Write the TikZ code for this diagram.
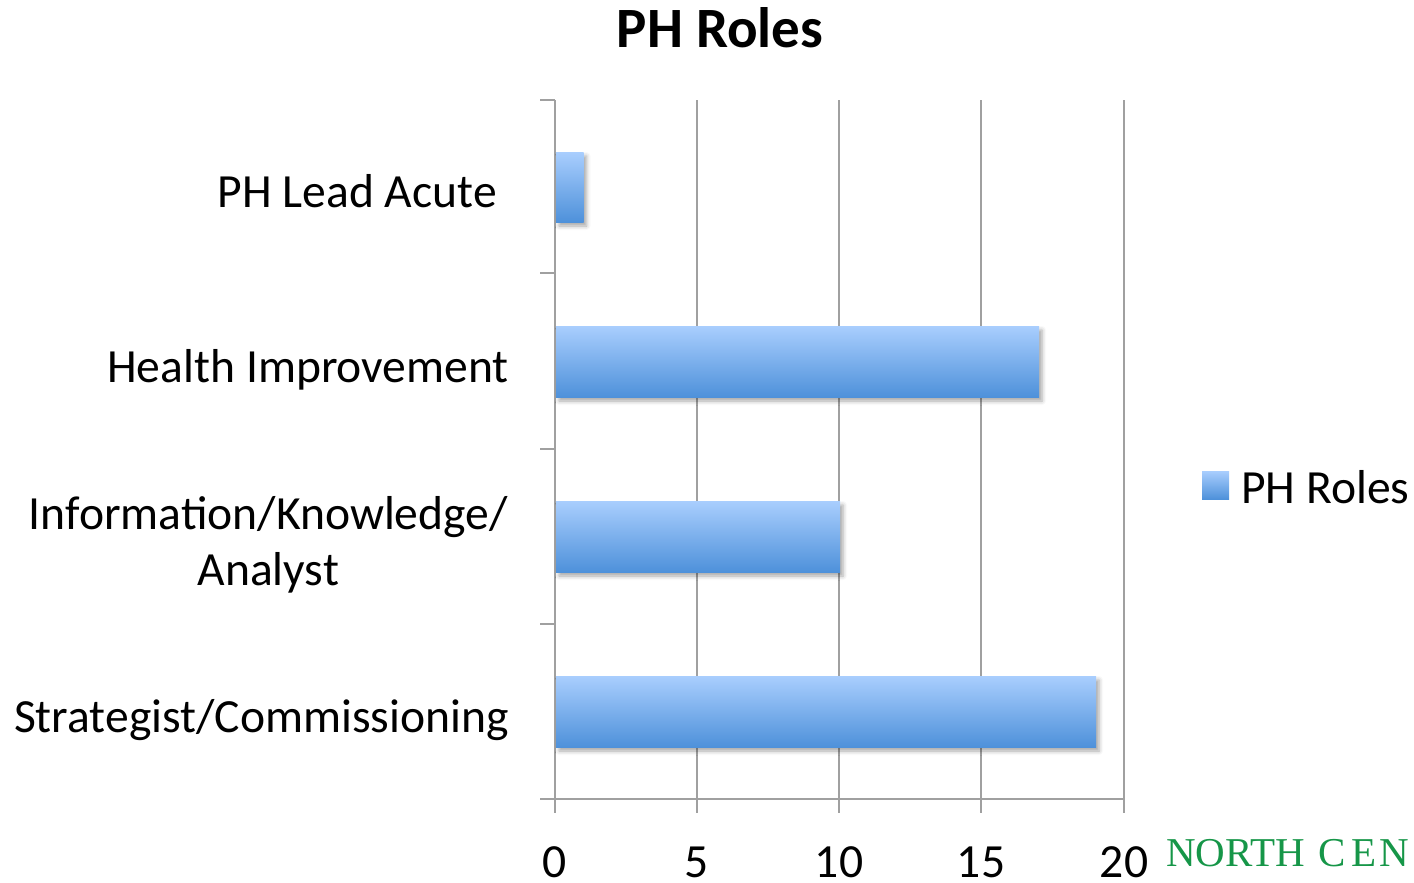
\documentclass[tikz,border=0pt]{standalone}
\usepackage{fontspec}
\setmainfont{Carlito}
\newfontfamily\serifnc{Liberation Serif}
\usetikzlibrary{shadows.blur}
\definecolor{gridgray}{RGB}{160,160,160}
\definecolor{bartop}{RGB}{169,206,254}
\definecolor{barbot}{RGB}{78,145,218}
\definecolor{ncgreen}{RGB}{22,150,72}
\begin{document}
\begin{tikzpicture}[x=1pt,y=-1pt,
  grid/.style={draw=gridgray,line width=2pt},
  bar/.style={top color=bartop,bottom color=barbot,draw=none,
    blur shadow={shadow xshift=3pt,shadow yshift=-4pt,shadow blur radius=4pt,shadow opacity=35}},
  lbl/.style={font=\fontsize{47.6}{57}\selectfont,inner sep=0pt},
  ticklbl/.style={lbl,text depth=0pt,text height=32pt},
]
\useasboundingbox (0,0) rectangle (1414,883);
% grid lines
\foreach \x in {697,839,981,1124} \draw[grid] (\x,100) -- (\x,813);
% axes
\draw[grid] (555,100) -- (555,813);
\draw[grid] (540,799) -- (1124,799);
\foreach \y in {100,273,449,624} \draw[grid] (540,\y) -- (555,\y);
% bars
\path[bar] (556,152) rectangle (583.5,222);
\path[bar] (556,326) rectangle (1039,397);
\path[bar] (556,501) rectangle (840,572);
\path[bar] (556,676) rectangle (1096,747);
% category labels
\node[lbl,anchor=base east] (c1) at (497,207) {PH Lead Acute};
\node[lbl,anchor=base east] (c2) at (509,382) {Health Improvement};
\node[lbl,anchor=base east] (c3a) at (508,529) {Information/Knowledge/};
\node[lbl,anchor=base] (c3b) at ([yshift=-56pt]c3a.base) {Analyst};
\node[lbl,anchor=base east] (c4) at (509,732) {Strategist/Commissioning};
% tick labels
\node[ticklbl,anchor=base] (t0) at (555,877) {0};
\node[ticklbl,anchor=base] (t5) at (697,877) {5};
\node[ticklbl,anchor=base] (t10) at (839,877) {10};
\node[ticklbl,anchor=base] (t15) at (981,877) {15};
\node[ticklbl,anchor=base] (t20) at (1124,877) {20};
% title
\node[font=\fontsize{57}{68}\selectfont\bfseries,inner sep=0pt,anchor=base] (title) at (720,48) {PH Roles};
% legend
\path[top color=bartop,bottom color=barbot] (1202,471) rectangle (1229,499);
\node[lbl,anchor=base west] (leg) at (1241,503) {PH Roles};
% logo text
\begin{scope}
\clip (0,0) rectangle (1414,883);
\node[font=\serifnc\fontsize{41}{49}\selectfont,text=ncgreen,inner sep=0pt,text depth=0pt,anchor=base west] (nc) at (1166,866) {NORTH\hspace{14pt}C\hspace{5pt}E\hspace{3pt}N};
\end{scope}
\end{tikzpicture}
\end{document}
